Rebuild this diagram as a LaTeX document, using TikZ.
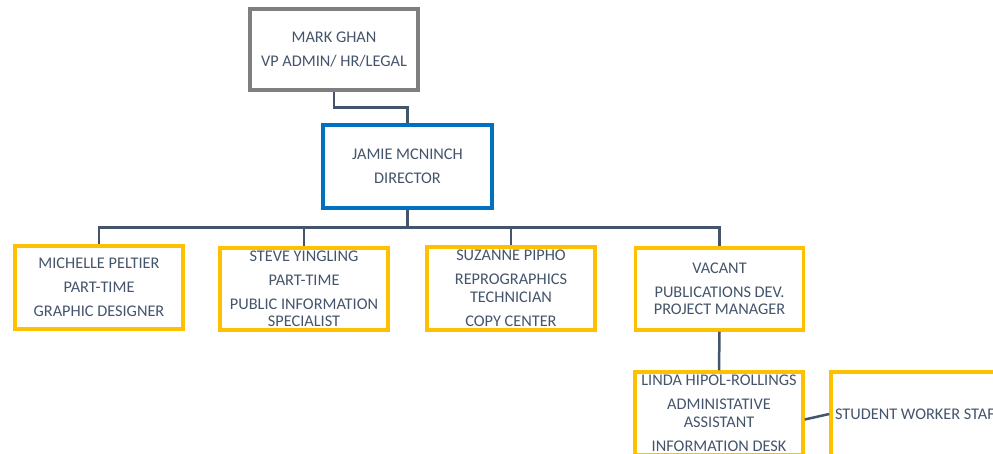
\documentclass[tikz,border=0pt]{standalone}
\usepackage{fontspec}
\setmainfont{Carlito}
\definecolor{txt}{HTML}{44546A}
\definecolor{ygold}{HTML}{FFC000}
\definecolor{vblue}{HTML}{0070C0}
\definecolor{vgray}{HTML}{7F7F7F}
\tikzset{
  box/.style={draw=ygold, line width=3.5bp, minimum width=168bp, minimum height=83bp,
    inner sep=0pt, align=center, text=txt, font=\fontsize{16.3bp}{17.5bp}\selectfont},
  conn/.style={draw=txt, line width=2.5bp}
}
\begin{document}
\begin{tikzpicture}[x=1bp,y=-1bp]
\useasboundingbox (0,0) rectangle (993,454);
\clip (0,0) rectangle (993,454);
\node[box, draw=vgray, minimum height=81bp] (mark) at (334,49.5) {MARK GHAN\\[6.5bp]VP ADMIN/ HR/LEGAL};
\node[box, draw=vblue, minimum width=169bp] (jamie) at (407.5,166.5) {JAMIE MCNINCH\\[6.5bp]DIRECTOR};
\node[box] (b1) at (99,287.5) {MICHELLE PELTIER\\[6.5bp]PART-TIME\\[6.5bp]GRAPHIC DESIGNER};
\node[box, minimum height=82bp] (b2) at (304,289) {STEVE YINGLING\\[6.5bp]PART-TIME\\[6.5bp]PUBLIC INFORMATION\\SPECIALIST};
\node[box] (b3) at (511,288.5) {SUZANNE PIPHO\\[6.5bp]REPROGRAPHICS\\TECHNICIAN\\[6.5bp]COPY CENTER};
\node[box, minimum height=82bp] (b4) at (719.5,289) {VACANT\\[6.5bp]PUBLICATIONS DEV.\\PROJECT MANAGER};
\node[box] (linda) at (719,413.5) {LINDA HIPOL-ROLLINGS\\[6.5bp]ADMINISTATIVE\\ASSISTANT\\[6.5bp]INFORMATION DESK};
\node[box, minimum height=84bp] (student) at (915,414) {\makebox[160bp][l]{STUDENT WORKER STAFF}};
\draw[conn] (mark.south) -- ++(0,16) -| (jamie.north);
\foreach \b in {b1,b2,b3,b4} \draw[conn] (jamie.south) -- ++(0,18) -| (\b.north);
\draw[conn] (b4.south) -- (linda.north);
\draw[conn] ([yshift=-6bp]linda.east) -- (student.west);
\end{tikzpicture}
\end{document}
